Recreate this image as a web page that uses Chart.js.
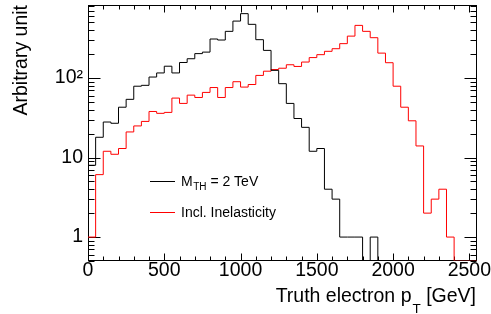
<!DOCTYPE html>
<html>
<head>
<meta charset="utf-8">
<title>Truth electron pT</title>
<script src="https://cdn.jsdelivr.net/npm/chart.js@4.4.1/dist/chart.umd.min.js"></script>
<style>
  html, body { margin: 0; padding: 0; background: #fff; }
  canvas { display: block; }
</style>
</head>
<body>
<canvas id="ptChart" width="491" height="314"></canvas>
<script>
// histogram binning: 50 GeV bins from 0 to 2550 GeV
const binWidth = 50;
const xMax = 2550;

// M_TH = 2 TeV (black)
const mthCounts = [
  8, 18, 28, 27, 43, 54, 79, 81, 103, 116,
  141, 116, 157, 175, 203, 212, 310, 301, 387, 521,
  646, 474, 304, 223, 125, 85, 48, 31, 24, 12,
  13, 4, 3, 1, 1, 1, 0, 1, 0, 0,
  0, 0, 0, 0, 0, 0, 0, 0, 0, 0, 0
];

// Incl. Inelasticity (red)
const inelCounts = [
  1, 6.1, 12, 11, 13, 21, 25, 28.5, 38, 36,
  37, 56, 48, 61, 57, 66, 76, 57, 76, 90,
  77, 83, 108, 122, 128, 133, 147, 140, 159, 181,
  197, 217, 234, 271, 337, 460, 387, 322, 206, 156,
  79, 43, 29, 14, 2, 3, 4, 1, 0, 0, 0
];

const xTicks = [0, 500, 1000, 1500, 2000, 2500];
const yTicks = [1, 10, 100];
const yMin = 0.5;
const yMax = 830;

const FONT = '"Liberation Sans", Arial, Helvetica, sans-serif';

// left edge of every bin + a closing point on the right edge
function histPoints(counts) {
  let pts = counts.map(function (c, i) {
    return { x: i * binWidth, y: c > 0 ? c : yMin }; // log axis can't show 0, put it on the floor
  });
  pts.push({ x: counts.length * binWidth, y: pts[pts.length - 1].y });
  return pts;
}

// ROOT style frame with inward ticks on all four sides
const framePlugin = {
  id: 'frame',
  beforeDatasetsDraw(chart) {
    const ctx = chart.ctx, a = chart.chartArea;
    const xs = chart.scales.x, ys = chart.scales.y;
    const L = a.left + 0.5, R = a.right - 0.5, T = a.top + 0.5, B = a.bottom - 0.5;
    ctx.save();
    ctx.strokeStyle = '#000';
    ctx.lineWidth = 1;
    ctx.beginPath();
    for (let v = 0; v <= xMax; v += 100) {
      const px = Math.round(xs.getPixelForValue(v)) + 0.5;
      const len = v % 500 === 0 ? 7 : 4;
      ctx.moveTo(px, B); ctx.lineTo(px, B - len);
      ctx.moveTo(px, T); ctx.lineTo(px, T + len);
    }
    for (let e = -1; e <= 2; e++) {
      for (let k = 1; k < 10; k++) {
        const v = k * Math.pow(10, e);
        if (v < yMin - 1e-9 || v > yMax) continue;
        const py = Math.round(ys.getPixelForValue(v)) + 0.5;
        const len = k === 1 ? 12 : 6;
        ctx.moveTo(L, py); ctx.lineTo(L + len, py);
        ctx.moveTo(R, py); ctx.lineTo(R - len, py);
      }
    }
    ctx.stroke();
    ctx.strokeRect(L, T, R - L, B - T);
    ctx.restore();
  },
  afterDraw(chart) {
    const ctx = chart.ctx;
    ctx.save();
    ctx.fillStyle = '#000';
    ctx.textBaseline = 'alphabetic';
    ctx.textAlign = 'left';

    // x axis title with subscript
    const big = '19.5px ' + FONT, small = '13.5px ' + FONT;
    ctx.font = big;
    const head = 'Truth electron p', tail = ' [GeV]';
    const wHead = ctx.measureText(head).width, wTail = ctx.measureText(tail).width;
    ctx.font = small;
    const wSub = ctx.measureText('T').width;
    let x = 476 - (wHead + 1 + wSub + wTail);
    ctx.font = big;
    ctx.fillText(head, x, 301.5);
    x += wHead + 1;
    ctx.font = small;
    ctx.fillText('T', x, 312.5);
    x += wSub;
    ctx.font = big;
    ctx.fillText(tail, x, 301.5);

    // legend
    ctx.lineWidth = 1;
    ctx.strokeStyle = '#000';
    ctx.beginPath(); ctx.moveTo(150, 181.5); ctx.lineTo(175, 181.5); ctx.stroke();
    ctx.strokeStyle = '#ff0000';
    ctx.beginPath(); ctx.moveTo(150, 212.5); ctx.lineTo(175, 212.5); ctx.stroke();

    const lg = '14px ' + FONT, lgSub = '10px ' + FONT;
    let lx = 181;
    ctx.font = lg;
    ctx.fillText('M', lx, 186);
    lx += ctx.measureText('M').width + 0.5;
    ctx.font = lgSub;
    ctx.fillText('TH', lx, 189.5);
    lx += ctx.measureText('TH').width;
    ctx.font = lg;
    ctx.fillText(' = 2 TeV', lx, 186);
    ctx.fillText('Incl. Inelasticity', 181, 217);
    ctx.restore();
  }
};

const ctx = document.getElementById('ptChart').getContext('2d');
const chart = new Chart(ctx, {
  type: 'line',
  data: {
    datasets: [{
      label: 'M_TH = 2 TeV',
      data: histPoints(mthCounts),
      borderColor: '#000000',
      borderWidth: 1,
      stepped: 'before',
      pointRadius: 0,
      fill: false
    }, {
      label: 'Incl. Inelasticity',
      data: histPoints(inelCounts),
      borderColor: '#ff0000',
      borderWidth: 1,
      stepped: 'before',
      pointRadius: 0,
      fill: false
    }]
  },
  options: {
    responsive: false,
    animation: false,
    layout: { padding: { left: 0, top: 5, right: 14, bottom: 0 } },
    plugins: { legend: { display: false }, tooltip: { enabled: false } },
    scales: {
      x: {
        type: 'linear',
        min: 0,
        max: xMax,
        grid: { display: false, drawTicks: false },
        border: { display: false },
        afterBuildTicks: function (scale) {
          scale.ticks = xTicks.map(function (v) { return { value: v }; });
        },
        afterFit: function (scale) {
          scale.height = 53;
          scale.paddingLeft = 0;
          scale.paddingRight = 0;
        },
        ticks: {
          autoSkip: false,
          maxRotation: 0,
          padding: 0,
          color: '#000',
          font: { family: FONT, size: 19.5, lineHeight: 1 },
          callback: function (v) { return String(v); }
        }
      },
      y: {
        type: 'logarithmic',
        min: yMin,
        max: yMax,
        grid: { display: false, drawTicks: false },
        border: { display: false },
        afterBuildTicks: function (scale) {
          scale.ticks = yTicks.map(function (v) { return { value: v }; });
        },
        afterFit: function (scale) {
          scale.width = 88;
          scale.paddingTop = 0;
          scale.paddingBottom = 0;
        },
        ticks: {
          padding: 5,
          color: '#000',
          font: { family: FONT, size: 19.5, lineHeight: 1 },
          callback: function (v) { return v === 100 ? '10\u00B2' : String(v); }
        },
        title: {
          display: true,
          text: 'Arbitrary unit',
          align: 'end',
          color: '#000',
          font: { family: FONT, size: 19.5, lineHeight: 1 },
          padding: { top: 12, bottom: 0 }
        }
      }
    }
  },
  plugins: [framePlugin]
});
</script>
</body>
</html>
